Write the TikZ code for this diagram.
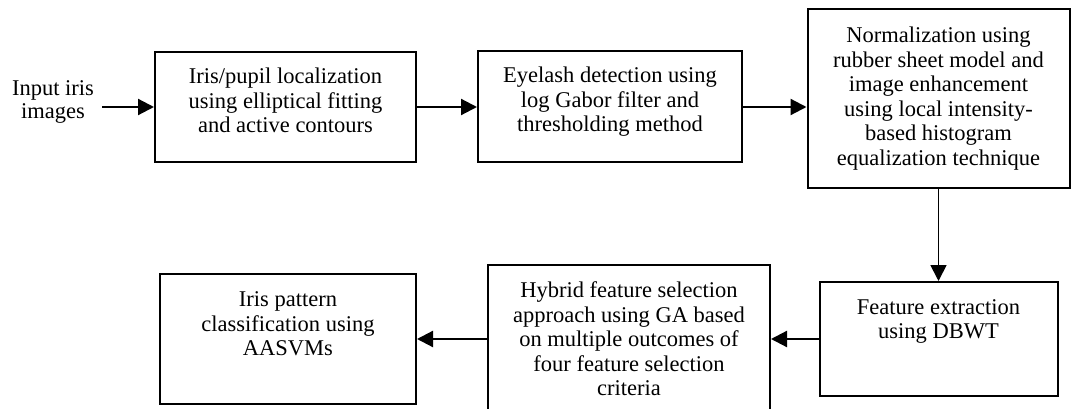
\documentclass[tikz,border=0pt]{standalone}
\usepackage{fontspec}
\setmainfont{Liberation Serif}
\usetikzlibrary{arrows.meta}

\tikzset{
  stage/.style={draw, line width=2pt, align=center, inner sep=0pt,
    font=\fontsize{22.5}{24.5}\selectfont},
  flow/.style={-{Triangle[length=16pt,width=16pt]}, line width=2.2pt}
}

\begin{document}
\begin{tikzpicture}[x=1pt, y=-1pt]
\useasboundingbox ( 0, 0 ) rectangle ( 1072, 409 );

%% Top row
\node (input) at ( 53, 102 ) [align=center, font=\fontsize{22.5}{23}\selectfont] {Input iris\\images};
\node (loc) at ( 285.5, 107 ) [stage, minimum width=261, minimum height=110, text depth=13] {Iris/pupil localization\\using elliptical fitting\\and active contours};
\node (eye) at ( 610, 107 ) [stage, minimum width=264, minimum height=111, text depth=15] {Eyelash detection using\\log Gabor filter and\\thresholding method};
\node (norm) at ( 938.5, 98.5 ) [stage, minimum width=262, minimum height=179] {Normalization using\\rubber sheet model and\\image enhancement\\using local intensity-\\based histogram\\equalization technique};

%% Bottom row
\node (feat) at ( 938.5, 339 ) [stage, minimum width=238, minimum height=114, text depth=40] {Feature extraction\\using DBWT};
\node (hyb) at ( 629, 339 ) [stage, minimum width=282, minimum height=148] {Hybrid feature selection\\approach using GA based\\on multiple outcomes of\\four feature selection\\criteria};
\node (cls) at ( 288, 339 ) [stage, minimum width=256, minimum height=130, text depth=30] {Iris pattern\\classification using\\AASVMs};

%% Arrows
\coordinate (start) at ( 102, 107 );
\draw [flow] (start) -- (loc.west);
\draw [flow] (loc) -- (eye);
\draw [flow] (eye.east) -- (eye.east-|norm.west);
\draw [flow, line width=1.8pt] (norm) -- (feat);
\draw [flow] (feat) -- (hyb);
\draw [flow] (hyb) -- (cls);

\end{tikzpicture}
\end{document}
